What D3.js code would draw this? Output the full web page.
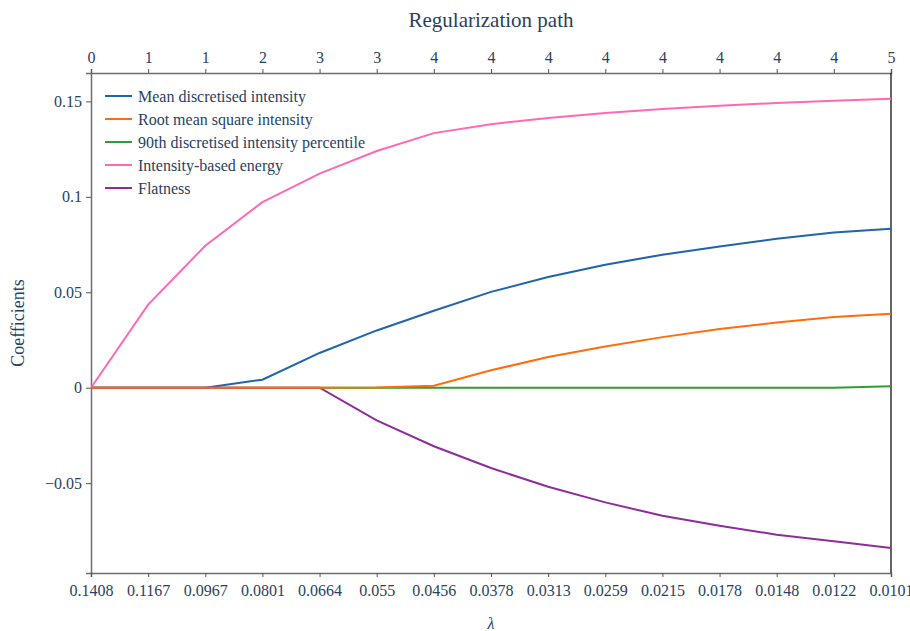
<!DOCTYPE html>
<html>
<head>
<meta charset="utf-8">
<script src="https://cdn.jsdelivr.net/npm/d3@7"></script>
<style>
  body { margin: 0; background: #fff; }
  svg text { font-family: "Liberation Serif", serif; fill: #2a3f5f; }
</style>
</head>
<body>
<svg id="chart" width="910" height="631"></svg>
<script>
// lambda values (bottom axis) and number of active features (top axis)
var lambdas = ["0.1408", "0.1167", "0.0967", "0.0801", "0.0664", "0.055", "0.0456", "0.0378",
               "0.0313", "0.0259", "0.0215", "0.0178", "0.0148", "0.0122", "0.0101"]
var path_counts = [0, 1, 1, 2, 3, 3, 4, 4, 4, 4, 4, 4, 4, 4, 5]

var feature_names = ["Mean discretised intensity", "Root mean square intensity",
                     "90th discretised intensity percentile", "Intensity-based energy", "Flatness"]
var feature_colors = ["#1f64ad", "#ff6d0a", "#2ca02c", "#ff69b4", "#8e2c9c"]

var mean_intensity = [0, 0, 0, 0.0042, 0.0182, 0.0300, 0.0403, 0.0502, 0.0580, 0.0644,
                      0.0697, 0.0740, 0.0780, 0.0813, 0.0833]
var rms_intensity  = [0, 0, 0, 0, 0, 0.0001, 0.0010, 0.0091, 0.0161, 0.0216,
                      0.0265, 0.0307, 0.0342, 0.0370, 0.0388]
var p90_intensity  = [0, 0, 0, 0, 0, 0, 0, 0, 0, 0, 0, 0, 0, 0, 0.0008]
var energy         = [0, 0.0435, 0.0744, 0.0972, 0.1122, 0.1240, 0.1334, 0.1381, 0.1413, 0.1439,
                      0.1461, 0.1477, 0.1492, 0.1504, 0.1514]
var flatness       = [0, 0, 0, 0, 0, -0.0171, -0.0307, -0.0421, -0.0519, -0.0601,
                      -0.0671, -0.0723, -0.0770, -0.0805, -0.0840]

var y_ticks = [-0.05, 0, 0.05, 0.1, 0.15]

var series = [mean_intensity, rms_intensity, p90_intensity, energy, flatness]

function init_chart () {
	var svg = d3.select("#chart"),
	    left = 91, right = 891, top = 73, bottom = 573

	var x_scale = d3.scalePoint()
	                .domain(d3.range(lambdas.length))
	                .range([left, right]),
	    y_scale = d3.scaleLinear()
	                .domain([-0.0971, 0.1649])
	                .range([bottom, top])

	// y axis
	var y_axis = svg.append("g")
	  .attr("transform", "translate(" + left + ",0)")
	  .call(d3.axisLeft(y_scale).tickValues(y_ticks).tickSize(5).tickPadding(4)
	          .tickFormat(d => d == 0 ? "0" : d3.format("")(+d.toFixed(2)).replace("-", "\u2212")))
	y_axis.selectAll("text").style("font-size", "16px")

	// bottom axis
	var x_axis = svg.append("g")
	  .attr("transform", "translate(0," + bottom + ")")
	  .call(d3.axisBottom(x_scale).tickSize(4).tickPadding(8).tickFormat(i => lambdas[i]))
	x_axis.selectAll("text").style("font-size", "16px")

	// top axis
	var top_axis = svg.append("g")
	  .attr("transform", "translate(0," + top + ")")
	  .call(d3.axisTop(x_scale).tickSize(4).tickPadding(6).tickFormat(i => path_counts[i]))
	top_axis.selectAll("text").style("font-size", "16px")

	svg.selectAll(".domain").attr("stroke", "#6e6e6e").attr("stroke-width", 1.5)
	svg.selectAll(".tick line").attr("stroke", "#555")

	// right border
	svg.append("line")
	  .attr("x1", right).attr("x2", right)
	  .attr("y1", top).attr("y2", bottom)
	  .attr("stroke", "#111").attr("stroke-width", 1.3)

	// lines
	var line = d3.line()
	             .x((d, i) => x_scale(i))
	             .y(d => y_scale(d))

	// draw in order so orange ends on top of the zero baseline like the reference
	var order = [2, 0, 3, 4, 1]
	order.forEach(k => {
		svg.append("path")
		  .datum(series[k])
		  .attr("d", line)
		  .attr("fill", "none")
		  .attr("stroke", feature_colors[k])
		  .attr("stroke-width", 2)
	})

	// legend
	var legend = svg.append("g")
	  .attr("transform", "translate(105,96)")
	feature_names.forEach((name, k) => {
		var row = legend.append("g").attr("transform", "translate(0," + (k * 23) + ")")
		row.append("line")
		  .attr("x1", 0).attr("x2", 27)
		  .attr("stroke", feature_colors[k]).attr("stroke-width", 2)
		row.append("text")
		  .attr("x", 33).attr("dy", "0.35em")
		  .style("font-size", "16px")
		  .text(name)
	})

	// titles
	svg.append("text")
	  .attr("x", (left + right) / 2).attr("y", 27)
	  .attr("text-anchor", "middle")
	  .style("font-size", "21px")
	  .text("Regularization path")

	svg.append("text")
	  .attr("x", (left + right) / 2).attr("y", 629)
	  .attr("text-anchor", "middle")
	  .style("font-size", "16px").style("font-style", "italic")
	  .text("\u03bb")

	svg.append("text")
	  .attr("transform", "translate(24," + ((top + bottom) / 2) + ") rotate(-90)")
	  .attr("text-anchor", "middle")
	  .style("font-size", "18px")
	  .text("Coefficients")
}

init_chart()
</script>
</body>
</html>
